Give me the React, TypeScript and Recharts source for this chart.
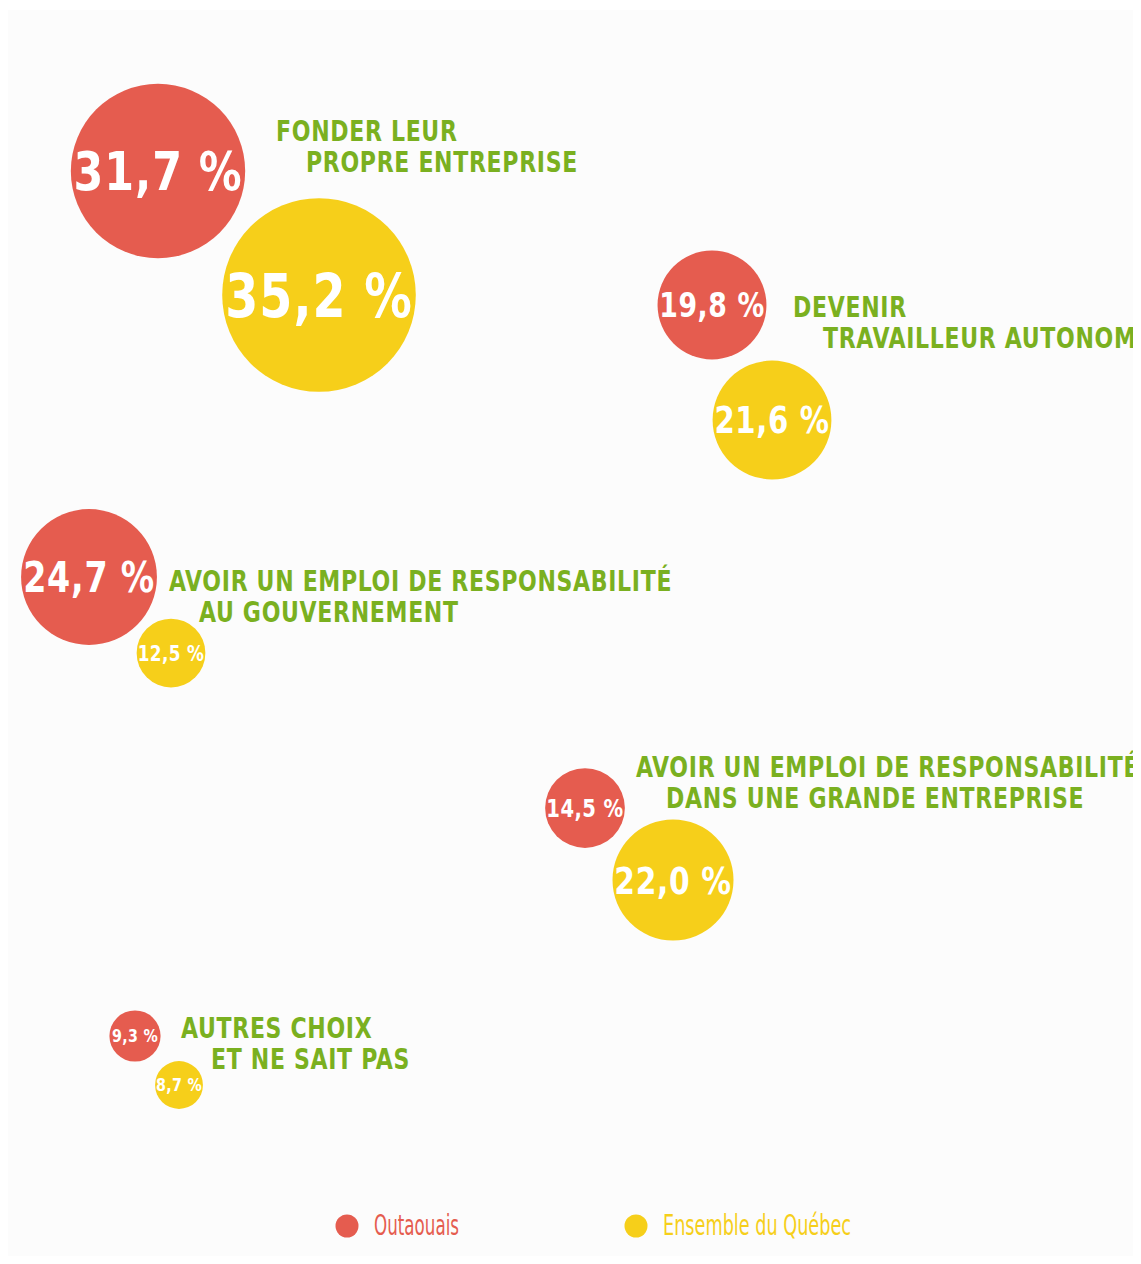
import React from 'react';
import { ScatterChart, Scatter, XAxis, YAxis, Legend } from 'recharts';

// ---- Data ----
const categoryLine1 = [
  'FONDER LEUR',
  'DEVENIR',
  'AVOIR UN EMPLOI DE RESPONSABILITÉ',
  'AVOIR UN EMPLOI DE RESPONSABILITÉ',
  'AUTRES CHOIX',
];
const categoryLine2 = [
  'PROPRE ENTREPRISE',
  'TRAVAILLEUR AUTONOME',
  'AU GOUVERNEMENT',
  'DANS UNE GRANDE ENTREPRISE',
  'ET NE SAIT PAS',
];
const outaouaisValues = [31.7, 19.8, 24.7, 14.5, 9.3];
const quebecValues = [35.2, 21.6, 12.5, 22.0, 8.7];
const seriesNames = ['Outaouais', 'Ensemble du Québec'];

// layout coordinates of the bubbles / labels in the chart's plane
const outaouaisX = [150, 704, 81, 577, 127];
const outaouaisY = [163, 297, 569, 800, 1028];
const quebecX = [311, 764, 163, 665, 171];
const quebecY = [287, 412, 645, 872, 1077];
const labelX = [268, 785, 161, 628, 173];
const labelY = [133, 309, 583, 769, 1030];

// ---- Styles ----
const W = 1133;
const H = 1248;
const RED = '#E55C4F';
const YELLOW = '#F6CF1A';
const GREEN = '#7AB020';
const BG = '#FCFCFC';
const FONT = "'DejaVu Sans Condensed', 'DejaVu Sans', sans-serif";
const RADIUS_PER_POINT = 2.75;

const outaouaisData = outaouaisValues.map((v, i) => ({ x: outaouaisX[i], y: outaouaisY[i], value: v }));
const quebecData = quebecValues.map((v, i) => ({ x: quebecX[i], y: quebecY[i], value: v }));
const labelData = categoryLine1.map((t, i) => ({ x: labelX[i], y: labelY[i], line1: t, line2: categoryLine2[i] }));

const fmt = (v: number) => v.toFixed(1).replace('.', ',') + ' %';

const Bubble = (props: any) => {
  const { cx, cy, payload, color } = props;
  const r = payload.value * RADIUS_PER_POINT;
  const fs = Math.max(r * 0.62, 18);
  return (
    <g>
      <circle cx={cx} cy={cy} r={r} fill={color} />
      <text
        transform={`translate(${cx} ${cy + fs * 0.36}) scale(0.88 1)`}
        x={0}
        y={0}
        textAnchor="middle"
        fontFamily={FONT}
        fontWeight="bold"
        fontSize={fs}
        letterSpacing={fs * 0.02}
        fill="#FFFFFF"
      >
        {fmt(payload.value)}
      </text>
    </g>
  );
};

const CategoryLabel = (props: any) => {
  const { cx, cy, payload } = props;
  return (
    <g transform={`translate(${cx} ${cy}) scale(0.845 1)`}>
      <text fontFamily={FONT} fontWeight="bold" fontSize={29} letterSpacing={0.8} fill={GREEN}>
        <tspan x={0} y={0}>{payload.line1}</tspan>
        <tspan x={30 / 0.845} y={31}>{payload.line2}</tspan>
      </text>
    </g>
  );
};

const legendItemX = [331, 620];
const legendTextLength = [85, 188];

const LegendContent = (props: any) => {
  const items = (props.payload || []).filter((p: any) => seriesNames.includes(p.value));
  return (
    <svg width={W} height={44} style={{ display: 'block' }}>
      {items.map((p: any) => {
        const i = seriesNames.indexOf(p.value);
        return (
          <g key={p.value}>
            <circle cx={legendItemX[i] + 8} cy={18} r={11.5} fill={p.color} />
            <text
              x={legendItemX[i] + 35}
              y={27}
              fontFamily={FONT}
              fontSize={29}
              fill={p.color}
              textLength={legendTextLength[i]}
              lengthAdjust="spacingAndGlyphs"
            >
              {p.value}
            </text>
          </g>
        );
      })}
    </svg>
  );
};

export default function App() {
  return (
    <div
      style={{
        width: W,
        height: H + 6,
        marginBottom: -6,
        background: `linear-gradient(to bottom, #FFFFFF 0px, #FFFFFF 2px, ${BG} 2px)`,
      }}
    >
      <ScatterChart width={W} height={H} margin={{ top: 0, right: 0, bottom: 0, left: 0 }}>
        <XAxis type="number" dataKey="x" domain={[0, W]} hide allowDataOverflow />
        <YAxis type="number" dataKey="y" domain={[0, H]} reversed hide allowDataOverflow />
        <Legend
          layout="horizontal"
          verticalAlign="middle"
          align="center"
          wrapperStyle={{ top: 1200, left: 0, width: W }}
          content={<LegendContent />}
        />
        <Scatter
          name={seriesNames[0]}
          data={outaouaisData}
          fill={RED}
          isAnimationActive={false}
          shape={(p: any) => <Bubble {...p} color={RED} />}
        />
        <Scatter
          name={seriesNames[1]}
          data={quebecData}
          fill={YELLOW}
          isAnimationActive={false}
          shape={(p: any) => <Bubble {...p} color={YELLOW} />}
        />
        <Scatter
          name="labels"
          data={labelData}
          fill={GREEN}
          legendType="none"
          isAnimationActive={false}
          shape={(p: any) => <CategoryLabel {...p} />}
        />
      </ScatterChart>
    </div>
  );
}
